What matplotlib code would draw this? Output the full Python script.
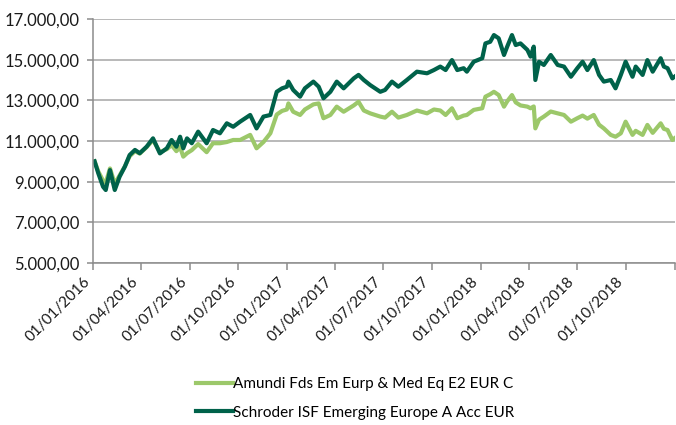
import numpy as np
import pandas as pd
import matplotlib
matplotlib.use("Agg")
from matplotlib import pyplot as plt
import matplotlib.dates as mdates
from matplotlib.ticker import FuncFormatter

# fund values, rebased to 10.000 at start of 2016
dates = [
    "2016-01-04", "2016-01-11", "2016-01-20", "2016-01-25", "2016-02-02", "2016-02-11",
    "2016-02-20", "2016-03-01", "2016-03-10", "2016-03-20", "2016-03-29", "2016-04-11",
    "2016-04-23", "2016-05-06", "2016-05-19", "2016-05-28", "2016-06-06", "2016-06-13",
    "2016-06-19", "2016-06-26", "2016-07-05", "2016-07-17", "2016-08-02", "2016-08-14",
    "2016-08-27", "2016-09-09", "2016-09-21", "2016-10-04", "2016-10-23", "2016-11-04",
    "2016-11-17", "2016-11-30", "2016-12-12", "2016-12-22", "2016-12-31", "2017-01-03",
    "2017-01-12", "2017-01-25", "2017-02-03", "2017-02-19", "2017-03-01", "2017-03-10",
    "2017-03-23", "2017-04-04", "2017-04-17", "2017-05-06", "2017-05-15", "2017-05-25",
    "2017-06-06", "2017-06-25", "2017-07-04", "2017-07-17", "2017-07-29", "2017-08-14",
    "2017-09-02", "2017-09-21", "2017-10-04", "2017-10-16", "2017-10-26", "2017-11-07",
    "2017-11-17", "2017-11-29", "2017-12-05", "2017-12-18", "2018-01-03", "2018-01-09",
    "2018-01-18", "2018-01-25", "2018-02-03", "2018-02-13", "2018-02-19", "2018-02-28",
    "2018-03-07", "2018-03-16", "2018-03-29", "2018-04-04", "2018-04-10", "2018-04-13",
    "2018-04-20", "2018-04-29", "2018-05-12", "2018-05-25", "2018-06-06", "2018-06-19",
    "2018-07-01", "2018-07-11", "2018-07-20", "2018-08-01", "2018-08-11", "2018-08-20",
    "2018-09-02", "2018-09-11", "2018-09-21", "2018-09-30", "2018-10-13", "2018-10-19",
    "2018-11-01", "2018-11-10", "2018-11-20", "2018-12-05", "2018-12-11", "2018-12-18",
    "2018-12-27", "2018-12-31",
]

amundi = [
    10000, 9500, 9050, 8950, 9650, 8900,
    9300, 9750, 10250, 10500, 10380, 10700,
    11050, 10450, 10600, 10800, 10500, 10700,
    10230, 10400, 10550, 10850, 10450, 10890,
    10890, 10950, 11050, 11050, 11300, 10640,
    10950, 11380, 12300, 12480, 12550, 12850,
    12440, 12280, 12550, 12800, 12850, 12120,
    12280, 12690, 12440, 12750, 12930, 12500,
    12360, 12200, 12150, 12440, 12150, 12280,
    12500, 12360, 12550, 12500, 12280, 12610,
    12120, 12250, 12280, 12530, 12610, 13180,
    13300, 13420, 13260, 12690, 12950, 13260,
    12900, 12750, 12690, 12610, 12700, 11620,
    12050, 12200, 12450, 12360, 12280, 11950,
    12120, 12250, 12100, 12280, 11800, 11620,
    11300, 11210, 11380, 11950, 11300, 11500,
    11300, 11790, 11400, 11870, 11600, 11540,
    11050, 11130,
]

schroder = [
    10000, 9410, 8750, 8590, 9570, 8590,
    9240, 9740, 10310, 10560, 10400, 10720,
    11130, 10390, 10640, 11050, 10720, 11210,
    10640, 11130, 10890, 11460, 10890, 11540,
    11380, 11870, 11700, 11950, 12280, 11620,
    12200, 12280, 13420, 13590, 13670, 13920,
    13510, 13180, 13590, 13920, 13670, 13100,
    13420, 13920, 13590, 14080, 14250, 14000,
    13750, 13420, 13510, 13920, 13670, 14000,
    14410, 14330, 14490, 14660, 14490, 14980,
    14490, 14580, 14410, 14900, 15070, 15800,
    15880, 16210, 16050, 15230, 15640, 16210,
    15720, 15800, 15480, 15150, 15640, 14000,
    14900, 14740, 15230, 14740, 14660, 14160,
    14580, 14900, 14490, 14980, 14250, 13920,
    14000, 13590, 14250, 14900, 14160, 14660,
    14250, 14980, 14410, 15070, 14660, 14580,
    14080, 14160,
]

names = ["Amundi Fds Em Eurp & Med Eq E2 EUR C", "Schroder ISF Emerging Europe A Acc EUR"]
colors = ["#9CC86A", "#00624A"]
yticks = [5000, 7000, 9000, 11000, 13000, 15000, 17000]

plt.rcParams['font.family'] = ['Lato', 'DejaVu Sans']

x = pd.to_datetime(dates)

fig = plt.figure(figsize=(6.76, 4.25), dpi=100)
ax = fig.add_axes([93 / 676, 1 - 263 / 425, 582 / 676, 244 / 425])

ax.plot(x, amundi, color=colors[0], lw=3.0, label=names[0], solid_joinstyle='round')
ax.plot(x, schroder, color=colors[1], lw=3.0, label=names[1], solid_joinstyle='round')

ax.set_xlim(pd.Timestamp("2016-01-01"), pd.Timestamp("2019-01-01"))
ax.set_ylim(5000, 17000)

def fmt_eur(v, pos):
    s = "{:,.2f}".format(v)
    return s.replace(",", "X").replace(".", ",").replace("X", ".")

ax.set_yticks(yticks)
ax.yaxis.set_major_formatter(FuncFormatter(fmt_eur))

# quarterly ticks; the closing 01/01/2019 tick is left unlabelled
ticks = mdates.date2num(pd.date_range("2016-01-01", "2019-01-01", freq="QS"))
ax.set_xticks(ticks)
ax.set_xticklabels([mdates.num2date(t).strftime("%d/%m/%Y") for t in ticks[:-1]] + [""],
                   rotation=45, ha='right', va='top')

ax.grid(axis='y', color='#A6A6A6', lw=1.1)
ax.set_axisbelow(True)
for side in ['top', 'right']:
    ax.spines[side].set_visible(False)
for side in ['left', 'bottom']:
    ax.spines[side].set_color('#8C8C8C')
    ax.spines[side].set_linewidth(1.1)

ax.tick_params(axis='y', length=4, width=1.1, color='#8C8C8C', pad=6, labelsize=12, labelcolor='#1A1A1A')
ax.tick_params(axis='x', length=5, width=1.1, color='#8C8C8C', pad=3, labelsize=11, labelcolor='#1A1A1A')

fig.legend(loc='upper left', bbox_to_anchor=(196 / 676, 1 - 377 / 425), frameon=False,
           handlelength=2.4, handletextpad=0.0, labelspacing=0.95, fontsize=11,
           borderaxespad=0, borderpad=0)

fig.savefig("out.png", dpi=100)
